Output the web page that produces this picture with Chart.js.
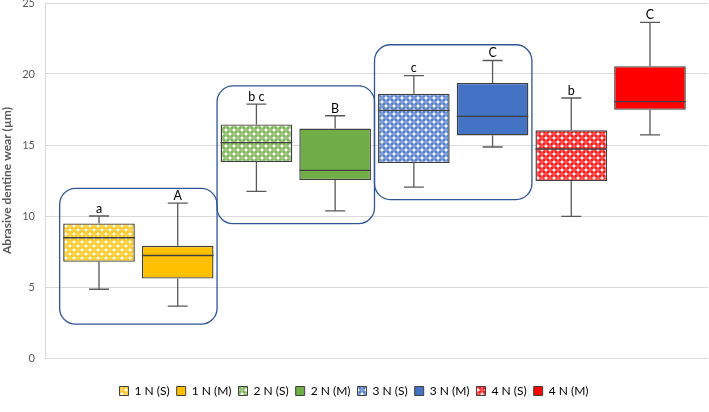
<!DOCTYPE html>
<html>
<head>
<meta charset="utf-8">
<script src="https://cdn.jsdelivr.net/npm/chart.js@4/dist/chart.umd.min.js"></script>
<style>
  html, body { margin: 0; padding: 0; background: #fff; }
  #wrap { width: 709px; height: 412px; }
</style>
</head>
<body>
<div id="wrap"><canvas id="wear_chart" width="709" height="412"></canvas></div>
<script>
// groups in plot order (S = patterned, M = solid)
var groups = ['1 N (S)', '1 N (M)', '2 N (S)', '2 N (M)', '3 N (S)', '3 N (M)', '4 N (S)', '4 N (M)'];
var q1          = [6.77, 5.59, 13.80, 12.53, 13.73, 15.67, 12.46, 17.48];
var median      = [8.47, 7.22, 15.17, 13.21, 17.44, 17.01, 14.72, 18.05];
var q3          = [9.48, 7.90, 16.45, 16.16, 18.61, 19.37, 16.04, 20.55];
var whiskerLow  = [4.84, 3.66, 11.73, 10.36, 12.03, 14.86, 9.98, 15.71];
var whiskerHigh = [10.00, 10.90, 17.88, 17.06, 19.89, 20.95, 18.31, 23.64];
var letters     = ['a', 'A', 'b c', 'B', 'c', 'C', 'b', 'C'];
// rounded frames around pairs: [from group, to group, low value, high value]
var framedPairs = [[-0.5, 1.5, 2.38, 11.94], [1.5, 3.5, 9.46, 19.16], [3.5, 5.5, 11.16, 22.06]];
var yTicks = [0, 5, 10, 15, 20, 25];

var baseColors = ['#FFC000', '#FFC000', '#70AD47', '#70AD47', '#4472C4', '#4472C4', '#FF0000', '#FF0000'];
var patterned  = [true, false, true, false, true, false, true, false];

var makeDots = function(color){
  var c = document.createElement('canvas');
  c.width = 8; c.height = 8;
  var p = c.getContext('2d');
  p.fillStyle = color;
  p.fillRect(0, 0, 8, 8);
  p.fillStyle = 'rgba(255,255,255,0.95)';
  [[2, 2], [6, 6]].forEach(function(d){
    p.beginPath(); p.arc(d[0], d[1], 1.7, 0, Math.PI * 2); p.fill();
  });
  p.fillStyle = 'rgba(255,255,255,0.35)';
  [[6, 2], [2, 6]].forEach(function(d){
    p.beginPath(); p.arc(d[0], d[1], 1.9, 0, Math.PI * 2); p.fill();
  });
  return p.createPattern(c, 'repeat');
};

var fills = baseColors.map(function(col, i){
  return patterned[i] ? makeDots(col) : col;
});

var boxExtras = {
  id: 'boxExtras',
  afterDatasetsDraw: function(chart){
    var ctx = chart.ctx, xs = chart.scales.x, ys = chart.scales.y;
    var bars = chart.getDatasetMeta(0).data;
    ctx.save();

    ctx.strokeStyle = '#2F5597';
    ctx.lineWidth = 1.3;
    framedPairs.forEach(function(f){
      var l = xs.getPixelForValue(f[0]), r = xs.getPixelForValue(f[1]);
      var t = ys.getPixelForValue(f[3]), b = ys.getPixelForValue(f[2]);
      ctx.beginPath();
      ctx.roundRect(l, t, r - l, b - t, 16);
      ctx.stroke();
    });

    for (var i = 0; i < groups.length; i++) {
      var bar = bars[i];
      var cx = bar.x, half = bar.width / 2;
      var yHi = ys.getPixelForValue(whiskerHigh[i]);
      var yLo = ys.getPixelForValue(whiskerLow[i]);
      var yQ1 = ys.getPixelForValue(q1[i]);
      var yQ3 = ys.getPixelForValue(q3[i]);
      var yMed = ys.getPixelForValue(median[i]);

      ctx.strokeStyle = '#595959';
      ctx.lineWidth = 1.3;
      ctx.beginPath();
      ctx.moveTo(cx, yQ3); ctx.lineTo(cx, yHi);
      ctx.moveTo(cx - 10, yHi); ctx.lineTo(cx + 10, yHi);
      ctx.moveTo(cx, yQ1); ctx.lineTo(cx, yLo);
      ctx.moveTo(cx - 10, yLo); ctx.lineTo(cx + 10, yLo);
      ctx.stroke();

      ctx.strokeStyle = '#404040';
      ctx.beginPath();
      ctx.moveTo(cx - half, yMed); ctx.lineTo(cx + half, yMed);
      ctx.stroke();

      ctx.fillStyle = '#000';
      ctx.font = '12.5px Lato';
      ctx.textAlign = 'center';
      ctx.textBaseline = 'bottom';
      ctx.fillText(letters[i], cx, yHi - 1);
    }
    ctx.restore();
  }
};

var ctx = document.getElementById('wear_chart').getContext('2d');
var wear_chart = new Chart(ctx, {
  type: 'bar',
  data: {
    labels: groups,
    datasets: [{
      data: groups.map(function(g, i){ return {x: i, y: [q1[i], q3[i]]}; }),
      backgroundColor: fills,
      borderColor: '#404040',
      borderWidth: 1.4,
      borderSkipped: false,
      barPercentage: 0.91,
      categoryPercentage: 1
    }]
  },
  options: {
    responsive: false,
    animation: false,
    layout: { padding: { top: 3, right: 1, left: 0, bottom: 5 } },
    scales: {
      x: {
        type: 'linear',
        min: -0.686,
        max: 7.737,
        offset: false,
        afterBuildTicks: function(scale){
          scale.ticks = groups.map(function(g, i){ return {value: i}; });
        },
        afterFit: function(scale){
          scale.height = 20;
        },
        grid: { display: false },
        border: { display: false },
        ticks: { display: false }
      },
      y: {
        min: 0,
        max: 25,
        afterBuildTicks: function(scale){
          scale.ticks = yTicks.map(function(v){ return {value: v}; });
        },
        afterFit: function(scale){
          scale.width = 45;
          scale.paddingTop = 0;
          scale.paddingBottom = 0;
        },
        grid: { color: '#d9d9d9', drawTicks: false },
        border: { color: '#d9d9d9' },
        ticks: { color: '#595959', font: { family: 'Lato', size: 11 }, padding: 10 },
        title: {
          display: true,
          text: 'Abrasive dentine wear (µm)',
          color: '#595959',
          font: { family: 'Lato', size: 12, weight: 'bold' },
          padding: { top: 0, bottom: 2 }
        }
      }
    },
    plugins: {
      tooltip: { enabled: false },
      legend: {
        display: true,
        position: 'bottom',
        labels: {
          boxWidth: 9,
          boxHeight: 9,
          padding: 7,
          color: '#595959',
          font: { family: 'Lato', size: 12 },
          generateLabels: function(chart){
            return groups.map(function(g, i){
              return {
                text: g,
                fillStyle: fills[i],
                strokeStyle: '#404040',
                lineWidth: 1,
                hidden: false,
                index: i,
                datasetIndex: 0
              };
            });
          }
        }
      }
    }
  },
  plugins: [boxExtras]
});
</script>
</body>
</html>
